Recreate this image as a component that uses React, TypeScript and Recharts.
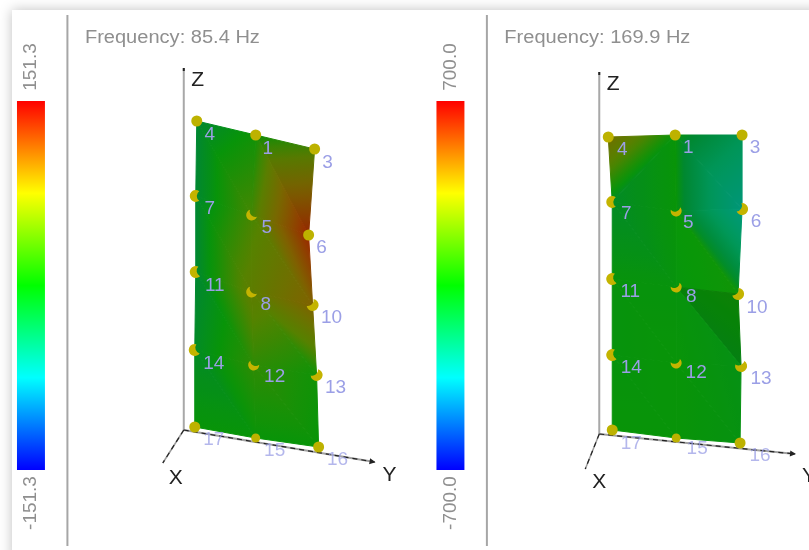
import { ScatterChart, Scatter, XAxis, YAxis, ReferenceArea, ReferenceLine } from "recharts";

const WIDTH = 809;
const HEIGHT = 550;

// node numbers, same order in every list below
const nodeIds = [4, 1, 3, 7, 5, 6, 11, 8, 10, 14, 12, 13, 17, 15, 16];

// panel 1, 85.4 Hz
const leftX = [197, 256, 315, 196, 252, 309, 196, 252, 313, 195, 254, 317, 195, 256, 319];
const leftY = [121, 135, 149, 196, 215, 235, 272, 292, 305, 350, 365, 375, 427, 438, 447];
const leftValues = [0, 0.12, 0.28, 0, 0.26, 1, 0, 0.36, 0.62, 0.03, 0.2, 0.12, 0.1, 0.1, 0.1];
const leftLabelX = [210, 268, 328, 210, 267, 322, 215, 266, 332, 214, 275, 336, 214, 275, 338];
const leftLabelY = [133, 147, 161, 207, 226, 246, 284, 303, 316, 362, 375, 386, 438, 449, 458];
const leftTriangles = [
  [4, 1, 5], [4, 5, 7], [1, 3, 6], [1, 6, 5],
  [7, 5, 8], [7, 8, 11], [5, 6, 10], [5, 10, 8],
  [11, 8, 12], [11, 12, 14], [8, 10, 13], [8, 13, 12],
  [14, 12, 15], [14, 15, 17], [12, 13, 16], [12, 16, 15],
];
const leftShades = [1, 1, 0.96, 1, 1, 1, 1, 1, 1, 1, 1, 1, 1, 1, 1, 1];
// direction each marker pokes out of the surface, null when the whole dot shows
const leftPoke = [null, null, null, 180, 135, null, 170, 135, 45, 160, 115, 50, null, null, null];

// panel 2, 169.9 Hz
const rightX = [609, 676, 743, 613, 677, 743, 613, 677, 739, 613, 677, 742, 613, 677, 741];
const rightY = [137, 135, 135, 202, 211, 209, 279, 287, 294, 355, 363, 366, 430, 438, 443];
const rightValues = [0.5, 0.1, -0.25, 0.03, 0.1, -0.65, 0.09, 0.09, 0.12, 0.09, 0.1, 0.07, 0.1, 0.1, 0.08];
const rightLabelX = [623, 689, 756, 627, 689, 757, 631, 692, 758, 632, 697, 762, 632, 698, 761];
const rightLabelY = [148, 146, 146, 212, 221, 220, 290, 295, 306, 366, 371, 377, 442, 447, 454];
const rightTriangles = [
  [4, 1, 7], [1, 5, 7], [1, 3, 6], [1, 6, 5],
  [7, 5, 8], [7, 8, 11], [5, 6, 10], [5, 10, 8],
  [11, 8, 12], [11, 12, 14], [8, 10, 13], [8, 13, 12],
  [14, 12, 15], [14, 15, 17], [12, 13, 16], [12, 16, 15],
];
const rightShades = [1, 1, 1, 1, 1, 1, 1.02, 1.02, 1, 1, 0.88, 1, 1, 1, 1, 1];
const rightPoke = [null, null, null, 180, 75, 30, 170, 65, 40, 170, 70, 70, null, null, null];

const SCALE_STOPS = [
  { v: -1, c: [0, 150, 150] },
  { v: -0.3, c: [0, 150, 90] },
  { v: 0, c: [0, 135, 50] },
  { v: 0.1, c: [8, 148, 8] },
  { v: 0.3, c: [85, 130, 0] },
  { v: 0.6, c: [125, 100, 0] },
  { v: 1, c: [155, 40, 0] },
];

const JET = ["#ff0000", "#ffff00", "#00ff00", "#00ffff", "#0000ff"];

function meshColor(v: number, shade = 1) {
  for (let i = 1; i < SCALE_STOPS.length; i++) {
    const a = SCALE_STOPS[i - 1];
    const b = SCALE_STOPS[i];
    if (v <= b.v) {
      const t = Math.max(0, (v - a.v) / (b.v - a.v));
      const ch = a.c.map((k, j) => Math.min(255, Math.round((k + (b.c[j] - k) * t) * shade)));
      return `rgb(${ch.join(",")})`;
    }
  }
  return "rgb(155,40,0)";
}

// value varies linearly over a triangle, so a linear gradient along its slope shades it exactly
function triangleShape(id: string, vals: number[], shade: number) {
  return (props: any) => {
    const p = props.points;
    const dx1 = p[1].x - p[0].x;
    const dy1 = p[1].y - p[0].y;
    const dx2 = p[2].x - p[0].x;
    const dy2 = p[2].y - p[0].y;
    const dv1 = vals[1] - vals[0];
    const dv2 = vals[2] - vals[0];
    const det = dx1 * dy2 - dx2 * dy1;
    const gx = (dv1 * dy2 - dv2 * dy1) / det;
    const gy = (dx1 * dv2 - dx2 * dv1) / det;
    const len2 = gx * gx + gy * gy;
    const min = Math.min(...vals);
    const max = Math.max(...vals);
    const start = p[vals.indexOf(min)];
    const offsets = [0, 0.125, 0.25, 0.375, 0.5, 0.625, 0.75, 0.875, 1];
    const pts = p.map((q: any) => `${q.x},${q.y}`).join(" ");
    const paint = max - min < 1e-6 ? meshColor(min, shade) : `url(#${id})`;
    return (
      <g>
        <defs>
          <linearGradient
            id={id}
            gradientUnits="userSpaceOnUse"
            x1={start.x}
            y1={start.y}
            x2={start.x + (gx / (len2 || 1)) * (max - min)}
            y2={start.y + (gy / (len2 || 1)) * (max - min)}
          >
            {offsets.map((o) => (
              <stop key={o} offset={o} stopColor={meshColor(min + (max - min) * o, shade)} />
            ))}
          </linearGradient>
        </defs>
        <polygon points={pts} fill={paint} stroke={paint} strokeWidth={1} />
      </g>
    );
  };
}

const NoDot = () => <g />;

// circle with a shifted circle cut out, leaves the sliver that pokes through the mesh
function crescentPath(cx: number, cy: number, r: number, d: number, angle: number) {
  const a = (angle * Math.PI) / 180;
  const ux = Math.cos(a);
  const uy = Math.sin(a);
  const h = Math.sqrt(r * r - (d * d) / 4);
  const p1 = [cx - (d / 2) * ux - h * uy, cy - (d / 2) * uy + h * ux];
  const p2 = [cx - (d / 2) * ux + h * uy, cy - (d / 2) * uy - h * ux];
  return `M${p1[0]},${p1[1]} A${r},${r} 0 1 0 ${p2[0]},${p2[1]} A${r},${r} 0 0 1 ${p1[0]},${p1[1]} Z`;
}

function NodeMark(props: any) {
  const { cx, cy, payload } = props;
  const pale = payload.id === 17 || payload.id === 15 || payload.id === 16;
  const edge = [7, 11, 14, 6, 10, 13].includes(payload.id);
  return (
    <g>
      {payload.poke === null ? (
        <circle cx={cx} cy={cy} r={payload.id === 15 ? 4.5 : 5.5} fill="#bdb200" />
      ) : (
        <path
          d={crescentPath(cx, cy, edge ? 6 : 5.5, edge ? 7 : 5, payload.poke)}
          fill="#c4b400"
        />
      )}
      <text
        x={payload.lx - payload.x + cx}
        y={payload.ly - payload.y + cy}
        fill="#9b9fe6"
        fillOpacity={pale ? 0.75 : 1}
        fontSize={19}
        fontFamily="Liberation Sans"
        textAnchor="middle"
        dominantBaseline="central"
      >
        {payload.id}
      </text>
    </g>
  );
}

function textMark(str: string, size: number, color: string, rotate = false, anchor = "middle", length?: number) {
  return (props: any) => (
    <text
      x={props.cx}
      y={props.cy}
      fill={color}
      fontSize={size}
      fontFamily="Liberation Sans"
      textAnchor={anchor}
      dominantBaseline="central"
      textLength={length}
      lengthAdjust={length ? "spacingAndGlyphs" : undefined}
      transform={rotate ? `rotate(-90 ${props.cx} ${props.cy})` : undefined}
    >
      {str}
    </text>
  );
}

const lineOf = (stroke: string, width: number, dash?: string) => (props: any) => (
  <polyline
    points={props.points.map((q: any) => `${q.x},${q.y}`).join(" ")}
    fill="none"
    stroke={stroke}
    strokeWidth={width}
    strokeDasharray={dash}
  />
);

// small head on the Y axis, pointing along the line from the origin
const arrowHead = (from: number[], to: number[]) => (props: any) => {
  const deg = (Math.atan2(to[1] - from[1], to[0] - from[0]) * 180) / Math.PI;
  return <polygon points="-5,-3 1,0 -5,3" fill="#222" transform={`translate(${props.cx} ${props.cy}) rotate(${deg})`} />;
};

function Panel(
  key: string,
  xs: number[],
  ys: number[],
  values: number[],
  labelX: number[],
  labelY: number[],
  triangles: number[][],
  shades: number[],
  poke: (number | null)[],
  origin: number[],
  zEnd: number[],
  xEnd: number[],
  yEnd: number[],
) {
  const nodes = nodeIds.map((id, i) => ({
    id,
    x: xs[i],
    y: ys[i],
    lx: labelX[i],
    ly: labelY[i],
    poke: poke[i],
  }));
  const axes = [
    [origin, zEnd, "#a8a8a8", 2, undefined],
    [zEnd, [zEnd[0], zEnd[1] + 3], "#222222", 2, undefined],
    [origin, xEnd, "#9a9a9a", 1.5, undefined],
    [origin, yEnd, "#a0a0a0", 2, undefined],
    [origin, xEnd, "#222222", 1.2, "5 4"],
    [origin, yEnd, "#222222", 1.2, "5 4"],
  ] as const;
  return [
    ...axes.map(([a, b, stroke, w, dash], i) => (
      <Scatter
        key={`${key}-axis-${i}`}
        data={[{ x: a[0], y: a[1] }, { x: b[0], y: b[1] }]}
        line={lineOf(stroke, w, dash)}
        shape={NoDot}
        isAnimationActive={false}
      />
    )),
    <Scatter key={`${key}-head`} data={[{ x: yEnd[0], y: yEnd[1] }]} shape={arrowHead(origin, yEnd)} isAnimationActive={false} />,
    ...triangles.map((tri, i) => {
      const idx = tri.map((n) => nodeIds.indexOf(n));
      return (
        <Scatter
          key={`${key}-tri-${i}`}
          data={idx.map((k) => ({ x: xs[k], y: ys[k] }))}
          line={triangleShape(`${key}-g${i}`, idx.map((k) => values[k]), shades[i])}
          shape={NoDot}
          isAnimationActive={false}
        />
      );
    }),
    <Scatter key={`${key}-nodes`} data={nodes} shape={NodeMark} isAnimationActive={false} />,
  ];
}

export default function App() {
  return (
    <div style={{ position: "absolute", left: 0, top: 0, width: WIDTH, height: HEIGHT, overflow: "hidden", background: "#fff" }}>
      <div style={{ position: "absolute", left: 12, top: 10, width: WIDTH, height: HEIGHT, boxShadow: "0 0 12px rgba(0,0,0,0.25)", background: "#fff" }} />
      <div style={{ position: "absolute", left: 0, top: 0, filter: "blur(0.7px)" }}>
        <ScatterChart width={WIDTH} height={HEIGHT} margin={{ top: 0, right: 0, bottom: 0, left: 0 }}>
          <defs>
            <linearGradient id="jet" x1="0" y1="0" x2="0" y2="1">
              {JET.map((c, i) => (
                <stop key={c} offset={i / (JET.length - 1)} stopColor={c} />
              ))}
            </linearGradient>
          </defs>
          <XAxis type="number" dataKey="x" domain={[0, WIDTH]} hide />
          <YAxis type="number" dataKey="y" domain={[0, HEIGHT]} reversed hide />

          <ReferenceArea x1={17} x2={45} y1={101} y2={470} fill="url(#jet)" fillOpacity={1} stroke="none" />
          <ReferenceArea x1={437} x2={465} y1={101} y2={470} fill="url(#jet)" fillOpacity={1} stroke="none" />
          <ReferenceLine segment={[{ x: 67.5, y: 15 }, { x: 67.5, y: 546 }]} stroke="#a6a6a6" strokeWidth={2} />
          <ReferenceLine segment={[{ x: 487.5, y: 15 }, { x: 487.5, y: 546 }]} stroke="#a6a6a6" strokeWidth={2} />

          {Panel("a", leftX, leftY, leftValues, leftLabelX, leftLabelY, leftTriangles, leftShades, leftPoke, [184, 430], [184, 68], [163, 463], [375, 462])}
          {Panel("b", rightX, rightY, rightValues, rightLabelX, rightLabelY, rightTriangles, rightShades, rightPoke, [600, 434], [600, 72], [586, 469], [796, 454])}

          <Scatter data={[{ x: 85, y: 37 }]} shape={textMark("Frequency: 85.4 Hz", 18, "#8f8f8f", false, "start", 175)} isAnimationActive={false} />
          <Scatter data={[{ x: 505, y: 37 }]} shape={textMark("Frequency: 169.9 Hz", 18, "#8f8f8f", false, "start", 186)} isAnimationActive={false} />
          <Scatter data={[{ x: 30, y: 67 }]} shape={textMark("151.3", 19, "#8f8f8f", true)} isAnimationActive={false} />
          <Scatter data={[{ x: 30, y: 503 }]} shape={textMark("-151.3", 19, "#8f8f8f", true)} isAnimationActive={false} />
          <Scatter data={[{ x: 450, y: 67 }]} shape={textMark("700.0", 19, "#8f8f8f", true)} isAnimationActive={false} />
          <Scatter data={[{ x: 450, y: 503 }]} shape={textMark("-700.0", 19, "#8f8f8f", true)} isAnimationActive={false} />

          <Scatter data={[{ x: 198, y: 78 }]} shape={textMark("Z", 21, "#222")} isAnimationActive={false} />
          <Scatter data={[{ x: 176, y: 476 }]} shape={textMark("X", 21, "#222")} isAnimationActive={false} />
          <Scatter data={[{ x: 390, y: 473 }]} shape={textMark("Y", 21, "#222")} isAnimationActive={false} />
          <Scatter data={[{ x: 614, y: 82 }]} shape={textMark("Z", 21, "#222")} isAnimationActive={false} />
          <Scatter data={[{ x: 600, y: 480 }]} shape={textMark("X", 21, "#222")} isAnimationActive={false} />
          <Scatter data={[{ x: 810, y: 474 }]} shape={textMark("Y", 21, "#222")} isAnimationActive={false} />
        </ScatterChart>
      </div>
    </div>
  );
}
